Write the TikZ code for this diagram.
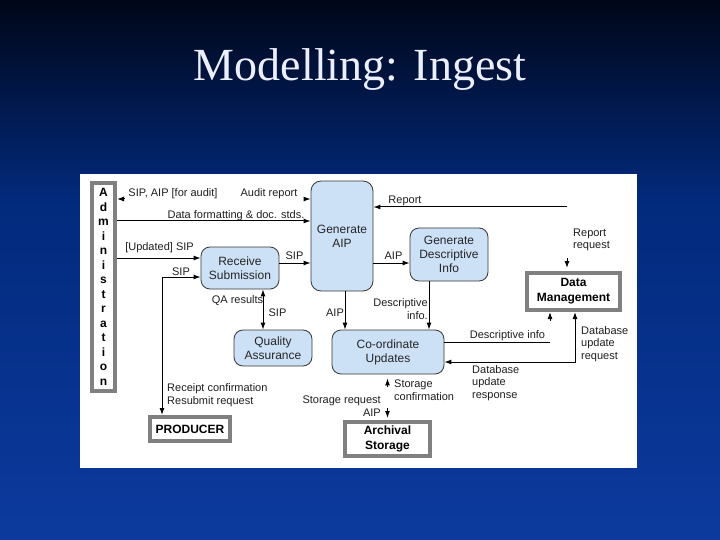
\documentclass[tikz,border=0pt]{standalone}
\usepackage{fontspec}
\setmainfont{Liberation Serif}
\setsansfont{Liberation Sans}
\usetikzlibrary{calc, arrows.meta, positioning}

\definecolor{slidetop}{RGB}{0,6,24}
\definecolor{slidemid}{RGB}{2,42,124}
\definecolor{slidebottom}{RGB}{12,58,158}
\definecolor{titletext}{RGB}{236,239,255}
\definecolor{procfill}{RGB}{204,224,246}
\definecolor{procline}{RGB}{55,55,55}
\definecolor{storeline}{RGB}{128,128,128}

\begin{document}
\begin{tikzpicture}[
        x=1pt, y=-1pt,
        process/.style={rectangle, rounded corners=9pt, draw=procline, fill=procfill, line width=0.8pt, align=center, inner sep=0pt, text=black!85, font=\sffamily\fontsize{12}{14}\selectfont},
        store/.style={rectangle, draw=storeline, fill=white, line width=4pt, align=center, inner sep=0pt, font=\sffamily\bfseries\fontsize{12}{15}\selectfont},
        lbl/.style={inner sep=0pt, text=black!88, font=\sffamily\fontsize{11}{12.5}\selectfont},
        arrow/.style={-{Latex[length=7pt, width=5pt]}, line width=1pt},
        twoway/.style={{Latex[length=7pt, width=5pt]}-{Latex[length=7pt, width=5pt]}, line width=1pt},
        plain/.style={line width=1pt}
    ]
    % slide background
    \shade[top color=slidetop, bottom color=slidemid] (0,0) rectangle (720,200);
    \shade[top color=slidemid, bottom color=slidebottom] (0,199.5) rectangle (720,540);
    \fill[white] (80,174) rectangle (637,468);
    \node[anchor=base, text=titletext, font=\fontsize{46}{50}\selectfont] (title) at (360,81) {Modelling: Ingest};

    % boxes
    \node[store, minimum width=23pt, minimum height=208pt, font=\sffamily\bfseries\fontsize{12}{14.5}\selectfont] (admin) at (103.5,287) {A\\d\\m\\i\\n\\i\\s\\t\\r\\a\\t\\i\\o\\n};
    \node[process, rounded corners=10pt, minimum width=62pt, minimum height=110pt] (genaip) at (342,236) {Generate\\AIP};
    \node[process, minimum width=78pt, minimum height=42pt] (receive) at (240,268) {Receive\\Submission};
    \node[process, minimum width=78pt, minimum height=36pt] (qa) at (273,348) {Quality\\Assurance};
    \node[process, minimum width=78pt, minimum height=53pt] (gendesc) at (449,254.5) {Generate\\Descriptive\\Info};
    \node[process, minimum width=112pt, minimum height=44pt] (coord) at (388,352) {Co-ordinate\\Updates};
    \node[store, minimum width=93pt, minimum height=37pt] (datamgmt) at (573.5,291.5) {Data\\Management};
    \node[store, minimum width=80pt, minimum height=24pt] (producer) at (190,429) {PRODUCER};
    \node[store, minimum width=85pt, minimum height=34pt] (archival) at (387.5,439) {Archival\\Storage};

    % loose ends
    \coordinate (auditstub) at ($(genaip.west |- 0,199)+(-7,0)$);
    \coordinate (adminstub) at ($(admin.east |- 0,199)+(7,0)$);
    \coordinate (reportend) at (567,207);
    \coordinate (requeststub) at (567,258);
    \coordinate (descend) at (550,342);
    \coordinate (descstub) at (550,321);
    \coordinate (confirmstub) at (387.5,387);
    \coordinate (requestAIP) at (387.5,408);

    % connectors
    \draw[arrow] (adminstub) -- (admin.east |- adminstub);
    \draw[arrow] (auditstub) -- (genaip.west |- auditstub);
    \draw[arrow] (admin.east |- 0,221) -- (genaip.west |- 0,221);
    \draw[arrow] (reportend) -- (genaip.east |- reportend);
    \draw[arrow] (requeststub) -- ($(datamgmt.north -| requeststub)+(0,-3)$);
    \draw[arrow] (admin.east |- 0,258) -- (receive.west |- 0,258);
    \draw[twoway] (receive.west |- 0,277) -| ($(producer.north west)+(14,0)$);
    \draw[arrow] (receive.east |- 0,263) -- (genaip.west |- 0,263);
    \draw[arrow] (genaip.east |- 0,263) -- (gendesc.west |- 0,263);
    \draw[twoway] (receive.south -| 263,0) -- (qa.north -| 263,0);
    \draw[arrow] (genaip.south -| 345,0) -- (coord.north -| 345,0);
    \draw[arrow] (gendesc.south -| 429,0) -- (coord.north -| 429,0);
    \draw[plain] (coord.east |- descend) -- (descend);
    \draw[arrow] (descstub) -- (datamgmt.south -| descstub);
    \draw[twoway] (coord.east |- 0,362) -| (datamgmt.south -| 575,0);
    \draw[arrow] (confirmstub) -- ($(coord.south -| confirmstub)+(0,4)$);
    \draw[arrow] (requestAIP) -- ($(archival.north -| requestAIP)+(0,-2)$);

    % flow labels
    \node[lbl] (lforaudit) at (173,194) {SIP, AIP [for audit]};
    \node[lbl] (lauditrep) at (269,194) {Audit report};
    \node[lbl] (ldatafmt) at (236,216) {Data formatting \& doc. stds.};
    \node[lbl] (lreport) at (405,201) {Report};
    \node[lbl, anchor=west, align=left] (lrepreq) at (573,240) {Report\\request};
    \node[lbl] (lupdated) at (159.5,248) {[Updated] SIP};
    \node[lbl] (lsipprod) at (181,272) {SIP};
    \node[lbl] (lsiprec) at (294.5,256) {SIP};
    \node[lbl] (laipdesc) at (393.5,256) {AIP};
    \node[lbl] (lqares) at (237.5,301) {QA results};
    \node[lbl] (lsipqa) at (277.5,313) {SIP};
    \node[lbl] (laipdown) at (335,313) {AIP};
    \node[lbl, anchor=east, align=right] (ldescinfo) at (428,309) {Descriptive\\info.};
    \node[lbl] (ldescdm) at (507.5,336) {Descriptive info};
    \node[lbl, anchor=west, align=left] (ldbreq) at (581,344) {Database\\update\\request};
    \node[lbl, anchor=west, align=left] (ldbresp) at (472,383) {Database\\update\\response};
    \node[lbl, anchor=west, align=left] (lstconf) at (394,390) {Storage\\confirmation};
    \node[lbl, anchor=east, align=right] (lstreq) at (381,406) {Storage request\\AIP};
    \node[lbl, anchor=west, align=left] (lreceipt) at (167,395) {Receipt confirmation\\Resubmit request};
\end{tikzpicture}
\end{document}
